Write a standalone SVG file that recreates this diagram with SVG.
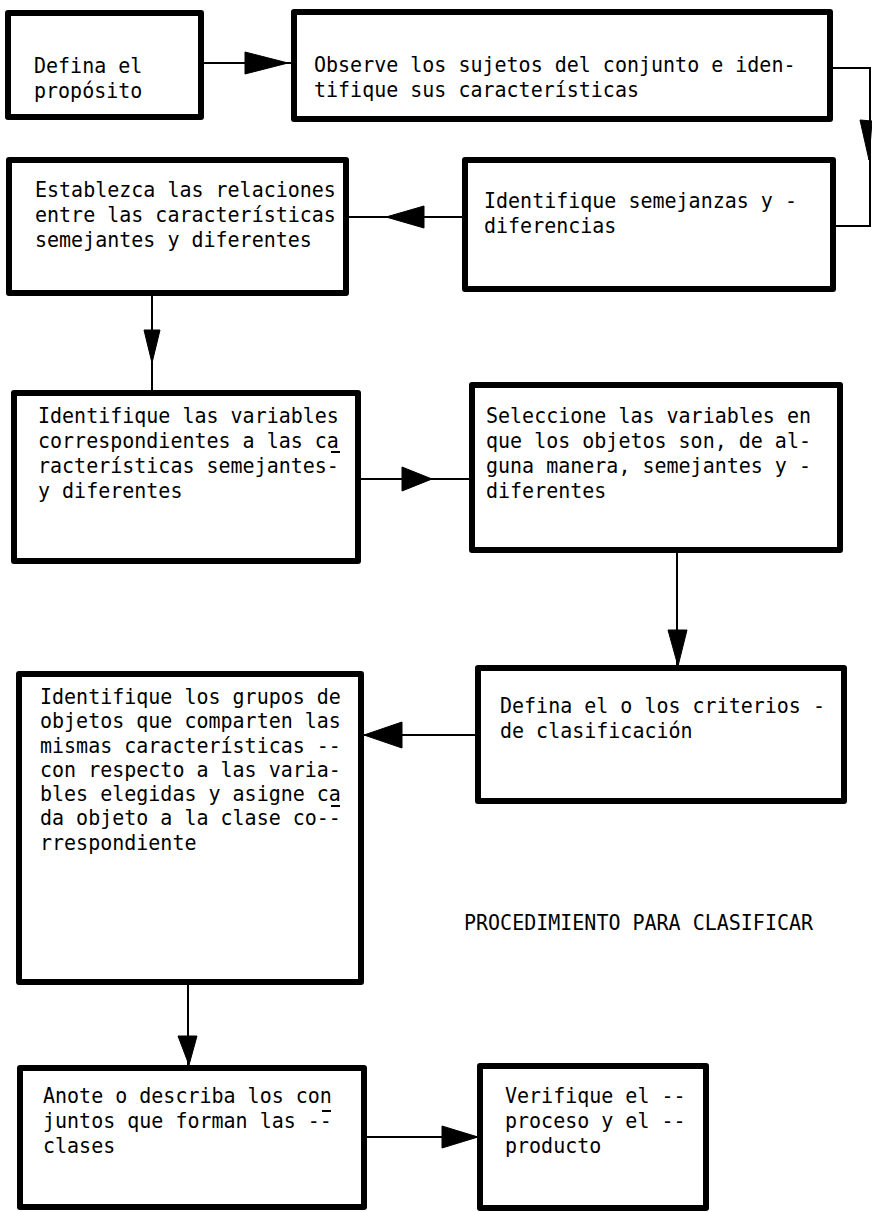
<svg xmlns="http://www.w3.org/2000/svg" width="872" height="1212" viewBox="0 0 872 1212">
<style>
.box{fill:#fff;stroke:#000;stroke-width:6;stroke-linejoin:round}
.t{font-family:"DejaVu Sans Mono","Liberation Mono",monospace;font-size:20px;fill:#000}
.ln{stroke:#000;stroke-width:2;fill:none}
.ah{fill:#000;stroke:#000;stroke-width:1;stroke-linejoin:round}
.mk{stroke:#000;stroke-width:2}
</style>
<rect width="872" height="1212" fill="#fff"/>
<g id="connectors">
<path class="ln" d="M201,63 H294"/>
<polygon class="ah" points="245,52 288,63 245,74"/>
<path class="ln" d="M830,68 H870 V226 H833"/>
<polygon class="ah" points="860,120 872,121 869,160"/>
<path class="ln" d="M465,217 H346"/>
<polygon class="ah" points="386,217 424,206 424,228"/>
<path class="ln" d="M152,293 V393"/>
<polygon class="ah" points="144,330 160,330 152,363"/>
<path class="ln" d="M358,479 H472"/>
<polygon class="ah" points="402,467 432,479 402,491"/>
<path class="ln" d="M677,550 V668"/>
<polygon class="ah" points="668,630 687,630 678,666"/>
<path class="ln" d="M478,735 H361"/>
<polygon class="ah" points="364,735 402,722 402,748"/>
<path class="ln" d="M188,982 V1068"/>
<polygon class="ah" points="178,1036 197,1036 189,1065"/>
<path class="ln" d="M364,1137 H480"/>
<polygon class="ah" points="442,1126 478,1137 442,1148"/>
</g>
<g id="n1">
<rect class="box" x="8" y="13" width="193" height="104"/>
<text class="t" transform="translate(34,73) scale(1,1.1)"><tspan x="0" y="0">Defina el</tspan><tspan x="0" y="22.73">propósito</tspan></text>
</g>
<g id="n2">
<rect class="box" x="294" y="12" width="536" height="107"/>
<text class="t" transform="translate(314,72) scale(1,1.1)"><tspan x="0" y="0">Observe los sujetos del conjunto e iden-</tspan><tspan x="0" y="22.73">tifique sus características</tspan></text>
</g>
<g id="n3">
<rect class="box" x="465" y="160" width="368" height="129"/>
<text class="t" transform="translate(484,208) scale(1,1.1)"><tspan x="0" y="0">Identifique semejanzas y -</tspan><tspan x="0" y="22.73">diferencias</tspan></text>
</g>
<g id="n4">
<rect class="box" x="9" y="160" width="337" height="133"/>
<text class="t" transform="translate(35,197) scale(1,1.1)"><tspan x="0" y="0">Establezca las relaciones</tspan><tspan x="0" y="22.73">entre las características</tspan><tspan x="0" y="45.45">semejantes y diferentes</tspan></text>
</g>
<g id="n5">
<rect class="box" x="14" y="393" width="344" height="168"/>
<text class="t" transform="translate(38,423) scale(1,1.1)"><tspan x="0" y="0">Identifique las variables</tspan><tspan x="0" y="22.73">correspondientes a las ca</tspan><tspan x="0" y="45.45">racterísticas semejantes-</tspan><tspan x="0" y="68.18">y diferentes</tspan></text>
<line class="mk" x1="331" y1="452" x2="340" y2="452"/>
</g>
<g id="n6">
<rect class="box" x="472" y="385" width="368" height="165"/>
<text class="t" transform="translate(486,423) scale(1,1.1)"><tspan x="0" y="0">Seleccione las variables en</tspan><tspan x="0" y="22.73">que los objetos son, de al-</tspan><tspan x="0" y="45.45">guna manera, semejantes y -</tspan><tspan x="0" y="68.18">diferentes</tspan></text>
</g>
<g id="n7">
<rect class="box" x="478" y="668" width="366" height="133"/>
<text class="t" transform="translate(500,713) scale(1,1.1)"><tspan x="0" y="0">Defina el o los criterios -</tspan><tspan x="0" y="22.73">de clasificación</tspan></text>
</g>
<g id="n8">
<rect class="box" x="19" y="674" width="342" height="308"/>
<text class="t" transform="translate(40,704) scale(1,1.1)"><tspan x="0" y="0">Identifique los grupos de</tspan><tspan x="0" y="22.09">objetos que comparten las</tspan><tspan x="0" y="44.18">mismas características --</tspan><tspan x="0" y="66.27">con respecto a las varia-</tspan><tspan x="0" y="88.36">bles elegidas y asigne ca</tspan><tspan x="0" y="110.45">da objeto a la clase co--</tspan><tspan x="0" y="132.55">rrespondiente</tspan></text>
<line class="mk" x1="331" y1="806" x2="340" y2="806"/>
</g>
<g id="n9">
<rect class="box" x="20" y="1068" width="344" height="139"/>
<text class="t" transform="translate(43,1103) scale(1,1.1)"><tspan x="0" y="0">Anote o describa los con</tspan><tspan x="0" y="22.73">juntos que forman las --</tspan><tspan x="0" y="45.45">clases</tspan></text>
<line class="mk" x1="322" y1="1111" x2="331" y2="1111"/>
</g>
<g id="n10">
<rect class="box" x="480" y="1066" width="226" height="142"/>
<text class="t" transform="translate(505,1103) scale(1,1.1)"><tspan x="0" y="0">Verifique el --</tspan><tspan x="0" y="22.73">proceso y el --</tspan><tspan x="0" y="45.45">producto</tspan></text>
</g>
<g id="title">
<text class="t" transform="translate(464,930) scale(1,1.1)">PROCEDIMIENTO PARA CLASIFICAR</text>
</g>
</svg>
